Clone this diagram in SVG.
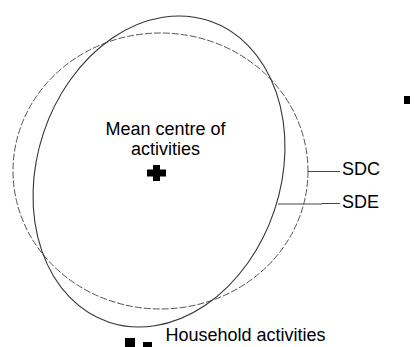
<svg xmlns="http://www.w3.org/2000/svg" width="419" height="347" viewBox="0 0 419 347">
<style>
.t{font-family:"Liberation Sans",Arial,sans-serif;font-size:18px;fill:#000}
.sde{fill:none;stroke:#333;stroke-width:1.1}
.sdc{fill:none;stroke:#555;stroke-width:1;stroke-dasharray:7 2}
.lead{fill:none;stroke:#444;stroke-width:1}
.mk{fill:#000}
</style>
<rect width="419" height="347" fill="#fff"/>
<g id="sdc"><ellipse class="sdc" cx="160.5" cy="171" rx="147.5" ry="138"/></g>
<g id="sde"><ellipse class="sde" cx="0" cy="0" rx="121.8" ry="158.8" transform="translate(159 171.5) rotate(18.4)"/></g>
<g id="connectors">
<polyline class="lead" points="308,171.5 340,171.5"/>
<polyline class="lead" points="278,204 322,204 322,203.5 340,203.5"/>
</g>
<g id="label-sdc"><text class="t" x="342" y="175">SDC</text></g>
<g id="label-sde"><text class="t" x="342" y="208">SDE</text></g>
<g id="mean-centre">
<text class="t" x="165.5" y="135" text-anchor="middle">Mean centre of</text>
<text class="t" x="165.5" y="155" text-anchor="middle">activities</text>
<path class="mk" d="M153,165 h7 v4.5 h6 v7 h-6 v4.5 h-7 v-4.5 h-6 v-7 h6 z"/>
</g>
<g id="marker-right"><rect class="mk" x="404" y="96" width="6" height="8"/></g>
<g id="household">
<rect class="mk" x="125" y="338" width="10" height="9"/>
<rect class="mk" x="143" y="342" width="9" height="5"/>
<text class="t" x="165.5" y="341">Household activities</text>
</g>
</svg>
